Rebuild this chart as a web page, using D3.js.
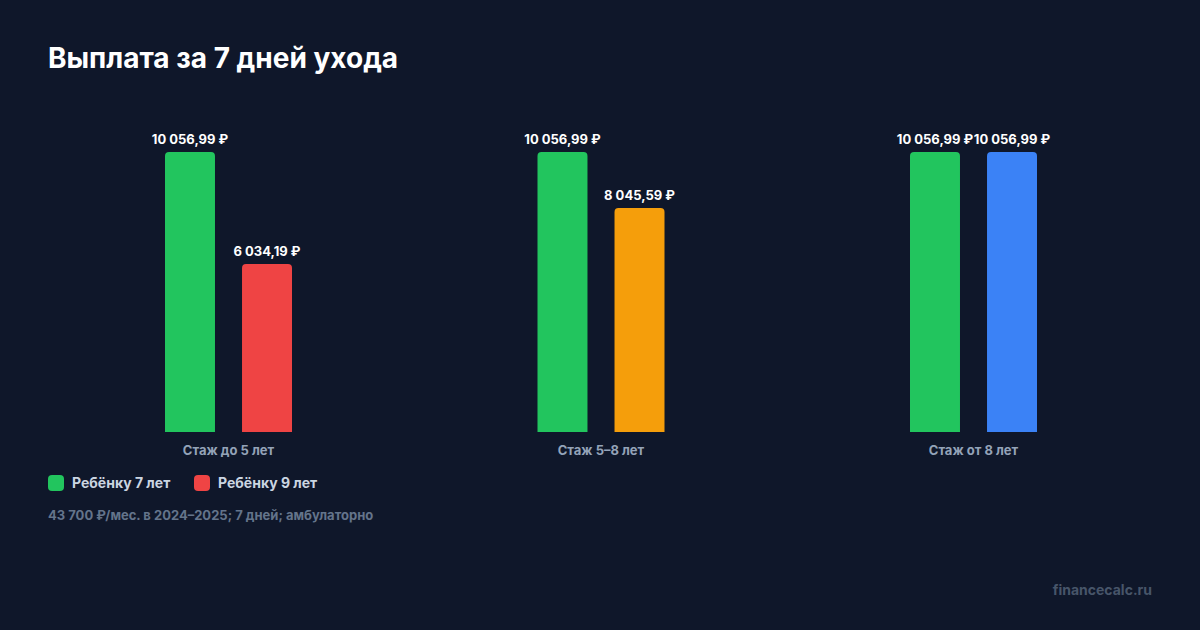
<!DOCTYPE html>
<html><head><meta charset="utf-8">
<script src="https://cdn.jsdelivr.net/npm/d3@7"></script>
<style>
html,body{margin:0;padding:0;background:#0f172a;}
svg{display:block;font-family:Inter,"Noto Sans",sans-serif;}
</style></head>
<body><svg id="c" width="1200" height="630"></svg>
<script>
const title = "Выплата за 7 дней ухода";
const categories = ["Стаж до 5 лет", "Стаж 5–8 лет", "Стаж от 8 лет"];
const seriesA = [10056.99, 10056.99, 10056.99];
const seriesB = [6034.19, 8045.59, 10056.99];
const colorsB = ["#ef4444", "#f59e0b", "#3b82f6"];
const colorA = "#22c55e";
const legendLabels = ["Ребёнку 7 лет", "Ребёнку 9 лет"];
const legendColors = ["#22c55e", "#ef4444"];
const note = "43 700 ₽/мес. в 2024–2025; 7 дней; амбулаторно";
const brand = "financecalc.ru";

const svg = d3.select("#c");
svg.append("rect").attr("width",1200).attr("height",630).attr("fill","#0f172a");
svg.append("text").attr("x",48).attr("y",68).attr("fill","#ffffff")
  .attr("font-size",28).attr("font-weight",700).text(title);

const fmt = v => {
  const s = v.toFixed(2).split(".");
  return s[0].replace(/\B(?=(\d{3})+(?!\d))/g, "\u00a0") + "," + s[1] + " ₽";
};

const y = d3.scaleLinear().domain([0, d3.max(seriesA.concat(seriesB))]).range([432, 152]);
const x0 = d3.scaleBand().domain(categories).range([165, 165 + 3*372.5]);
const x1 = d3.scaleBand().domain(["a","b"]).range([0, 127]).paddingInner(0.351);

const data = [];
categories.forEach((c,i) => {
  data.push({c, k:"a", v:seriesA[i], col:colorA});
  data.push({c, k:"b", v:seriesB[i], col:colorsB[i]});
});

const r = 4;
function barPath(x, yt, w, yb){
  return `M${x},${yb}V${yt+r}Q${x},${yt} ${x+r},${yt}H${x+w-r}Q${x+w},${yt} ${x+w},${yt+r}V${yb}Z`;
}
const g = svg.append("g");
g.selectAll("path.bar").data(data).join("path").attr("class","bar")
  .attr("fill", d => d.col)
  .attr("d", d => barPath(x0(d.c)+x1(d.k), y(d.v), x1.bandwidth(), y(0)));
g.selectAll("text.val").data(data).join("text").attr("class","val")
  .attr("x", d => x0(d.c)+x1(d.k)+x1.bandwidth()/2)
  .attr("y", d => y(d.v)-8)
  .attr("text-anchor","middle").attr("fill","#ffffff")
  .attr("font-size",13).attr("font-weight",700)
  .text(d => fmt(d.v));

svg.selectAll("text.cat").data(categories).join("text").attr("class","cat")
  .attr("x", d => x0(d) + 127/2).attr("y",455)
  .attr("text-anchor","middle").attr("fill","#94a3b8")
  .attr("font-size",13).attr("font-weight",700).text(d => d);

const lx = [48, 194];
legendLabels.forEach((l,i) => {
  svg.append("rect").attr("x",lx[i]).attr("y",475).attr("width",16).attr("height",16)
    .attr("rx",4).attr("fill",legendColors[i]);
  svg.append("text").attr("x",lx[i]+24).attr("y",488).attr("fill","#cbd5e1")
    .attr("font-size",14).attr("font-weight",700).text(l);
});

svg.append("text").attr("x",48).attr("y",520).attr("fill","#64748b")
  .attr("font-size",13).attr("font-weight",700).text(note);
svg.append("text").attr("x",1152).attr("y",595).attr("text-anchor","end").attr("fill","#475569")
  .attr("font-size",14).attr("font-weight",700).text(brand);
</script></body></html>
